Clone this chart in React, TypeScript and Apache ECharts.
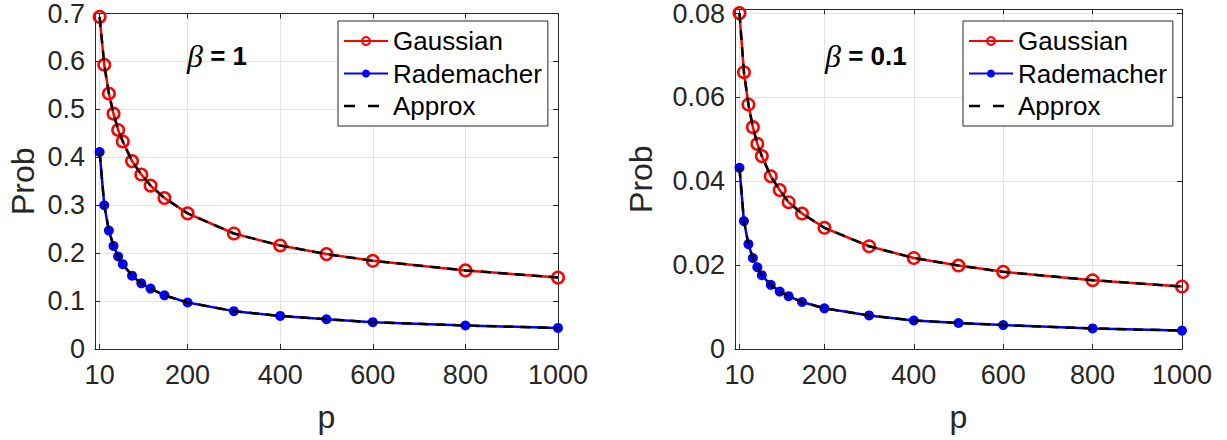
import React, { useEffect, useRef } from "react";
import * as echarts from "echarts";

const pValues = [10, 20, 30, 40, 50, 60, 80, 100, 120, 150, 200, 300, 400, 500, 600, 800, 1000];
const xTickLabels = [10, 200, 400, 600, 800, 1000];

// beta = 1
const gaussB1 = [0.693, 0.593, 0.533, 0.491, 0.457, 0.433, 0.392, 0.364, 0.341, 0.315, 0.283, 0.241, 0.216, 0.198, 0.184, 0.164, 0.149];
const radB1 = [0.411, 0.3, 0.247, 0.215, 0.193, 0.177, 0.153, 0.137, 0.126, 0.112, 0.097, 0.079, 0.069, 0.062, 0.056, 0.049, 0.044];
const approxGaussB1 = [0.693, 0.593, 0.533, 0.491, 0.457, 0.433, 0.392, 0.364, 0.341, 0.315, 0.283, 0.241, 0.216, 0.198, 0.184, 0.164, 0.149];
const approxRadB1 = [0.411, 0.3, 0.247, 0.215, 0.193, 0.177, 0.153, 0.137, 0.126, 0.112, 0.097, 0.079, 0.069, 0.062, 0.056, 0.049, 0.044];

// beta = 0.1
const gaussB01 = [0.0801, 0.066, 0.0583, 0.0529, 0.0489, 0.046, 0.0412, 0.0379, 0.035, 0.0323, 0.0289, 0.0245, 0.0217, 0.0199, 0.0184, 0.0164, 0.0149];
const radB01 = [0.0432, 0.0305, 0.025, 0.0217, 0.0195, 0.0176, 0.0153, 0.0137, 0.0126, 0.0112, 0.0097, 0.008, 0.0068, 0.0062, 0.0057, 0.0049, 0.0044];
const approxGaussB01 = [0.0801, 0.066, 0.0583, 0.0529, 0.0489, 0.046, 0.0412, 0.0379, 0.035, 0.0323, 0.0289, 0.0245, 0.0217, 0.0199, 0.0184, 0.0164, 0.0149];
const approxRadB01 = [0.0432, 0.0305, 0.025, 0.0217, 0.0195, 0.0176, 0.0153, 0.0137, 0.0126, 0.0112, 0.0097, 0.008, 0.0068, 0.0062, 0.0057, 0.0049, 0.0044];

const AX = "#262626";
const FONT = "Liberation Sans, Arial, sans-serif";
const DASH_ICON = "path://M0,0h0.01v0.01h-0.01z M0,3.75h11v2.5h-11z M24,3.75h11v2.5h-11z M43.99,9.99h0.01v0.01h-0.01z";

function pairs(vals: number[]) {
  return pValues.map((p, i) => [p, vals[i]]);
}

function makeX(gridIndex: number, top: boolean) {
  return {
    type: "value",
    gridIndex,
    position: top ? "top" : "bottom",
    min: 0,
    max: 1000,
    name: top ? "" : "p",
    nameLocation: "middle",
    nameGap: 52,
    nameTextStyle: { fontSize: 32, color: AX, fontFamily: FONT },
    axisLine: { show: true, onZero: false, lineStyle: { color: AX, width: 1 } },
    axisTick: { show: true, inside: true, length: 5, customValues: xTickLabels, lineStyle: { color: AX } },
    axisLabel: {
      show: !top,
      customValues: xTickLabels,
      formatter: (v: number) => String(v),
      fontSize: 27,
      color: AX,
      fontFamily: FONT,
      margin: 12,
    },
    splitLine: { show: !top, lineStyle: { color: "#e3e3e3", width: 1 } },
  };
}

function makeY(gridIndex: number, right: boolean, max: number, interval: number) {
  return {
    type: "value",
    gridIndex,
    position: right ? "right" : "left",
    min: 0,
    max,
    interval,
    name: right ? "" : "Prob",
    nameLocation: "middle",
    nameGap: gridIndex === 0 ? 56 : 78,
    nameTextStyle: { fontSize: 32, color: AX, fontFamily: FONT },
    axisLine: { show: true, onZero: false, lineStyle: { color: AX, width: 1 } },
    axisTick: { show: true, inside: true, length: 5, lineStyle: { color: AX } },
    axisLabel: {
      show: !right,
      fontSize: 27,
      color: AX,
      fontFamily: FONT,
      margin: 10,
      showMaxLabel: gridIndex === 0,
    },
    splitLine: { show: !right, lineStyle: { color: "#e3e3e3", width: 1 } },
  };
}

function seriesFor(gridIndex: number, g: number[], r: number[], ag: number[], ar: number[]) {
  const xi = gridIndex * 2;
  const yi = gridIndex * 2;
  return [
    {
      name: "Gaussian",
      type: "line",
      xAxisIndex: xi,
      yAxisIndex: yi,
      data: pairs(g),
      symbol: "circle",
      symbolSize: 11.5,
      showAllSymbol: true,
      lineStyle: { color: "#ff0000", width: 2.5 },
      itemStyle: { color: "rgba(255,255,255,0)", borderColor: "#ff0000", borderWidth: 2.5 },
      z: 2,
    },
    {
      name: "Rademacher",
      type: "line",
      xAxisIndex: xi,
      yAxisIndex: yi,
      data: pairs(r),
      symbol: "circle",
      symbolSize: 10,
      showAllSymbol: true,
      lineStyle: { color: "#0000ff", width: 2.5 },
      itemStyle: { color: "#0000ff", borderColor: "#0000ff", borderWidth: 0 },
      z: 2,
    },
    {
      name: "Approx",
      type: "line",
      xAxisIndex: xi,
      yAxisIndex: yi,
      data: pairs(ag),
      symbol: "none",
      lineStyle: { color: "#000000", width: 2.5, type: [10, 7] },
      itemStyle: { color: "#000000" },
      z: 3,
    },
    {
      name: "Approx",
      type: "line",
      xAxisIndex: xi,
      yAxisIndex: yi,
      data: pairs(ar),
      symbol: "none",
      lineStyle: { color: "#000000", width: 2.5, type: [10, 7] },
      itemStyle: { color: "#000000" },
      z: 3,
    },
  ];
}

function makeLegend(left: number) {
  return {
    data: [
      { name: "Gaussian" },
      { name: "Rademacher" },
      { name: "Approx", icon: DASH_ICON, itemStyle: { color: "#000000", borderWidth: 0 } },
    ],
    orient: "vertical",
    left,
    top: 21,
    itemWidth: 44,
    itemHeight: 10,
    itemGap: 2.5,
    padding: [5, 6, 5, 5],
    borderColor: AX,
    borderWidth: 1,
    backgroundColor: "#ffffff",
    selectedMode: false,
    textStyle: { fontSize: 26, color: "#000", fontFamily: FONT, lineHeight: 30 },
  };
}

function betaText(left: number, val: string) {
  return {
    type: "text",
    left,
    top: 40,
    z: 10,
    style: {
      text: "{b|β}{t| = " + val + "}",
      rich: {
        b: { fontFamily: "Liberation Serif, serif", fontStyle: "italic", fontSize: 32, fill: "#000" },
        t: { fontFamily: FONT, fontWeight: "bold", fontSize: 26, fill: "#000" },
      },
    },
  };
}

export default function App() {
  const ref = useRef<HTMLDivElement>(null);
  useEffect(() => {
    document.body.style.margin = "0";
    const chart = echarts.init(ref.current!, null, { renderer: "svg" });
    chart.setOption({
      animation: false,
      backgroundColor: "#ffffff",
      grid: [
        { left: 95, top: 9, width: 463, height: 340, containLabel: false },
        { left: 735, top: 9, width: 447, height: 340, containLabel: false },
      ],
      xAxis: [makeX(0, false), makeX(0, true), makeX(1, false), makeX(1, true)],
      yAxis: [makeY(0, false, 0.7, 0.1), makeY(0, true, 0.7, 0.1), makeY(1, false, 0.081, 0.02), makeY(1, true, 0.081, 0.02)],
      legend: [makeLegend(338), makeLegend(963)],
      graphic: [betaText(187, "1"), betaText(825, "0.1")],
      series: [
        ...seriesFor(0, gaussB1, radB1, approxGaussB1, approxRadB1),
        ...seriesFor(1, gaussB01, radB01, approxGaussB01, approxRadB01),
      ],
    });
    return () => chart.dispose();
  }, []);
  return <div ref={ref} style={{ width: 1227, height: 440 }} />;
}
